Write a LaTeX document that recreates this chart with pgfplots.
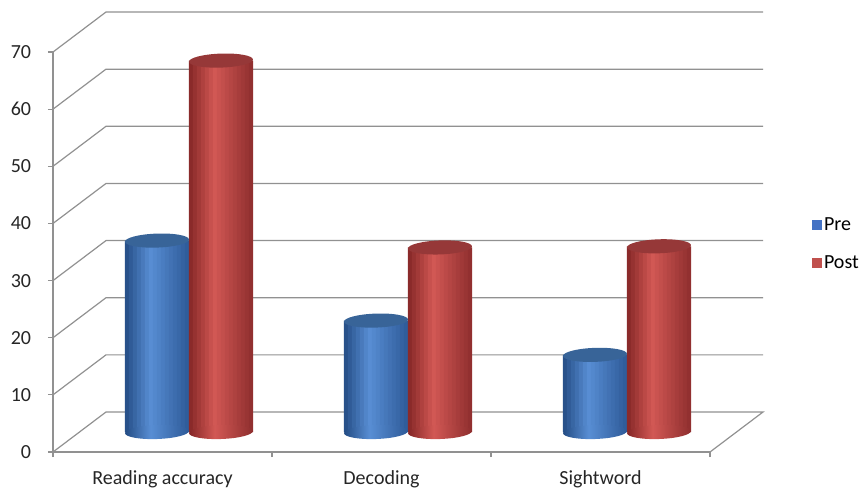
\documentclass[border=0pt]{standalone}
\usepackage{pgfplots}
\pgfplotsset{compat=1.18}
\usepackage{pgfplotstable}
\usepackage{fontspec}
\setmainfont{Carlito}
\definecolor{gridc}{RGB}{145,145,145}
\definecolor{bluedark}{RGB}{36,76,132}
\definecolor{bluelight}{RGB}{88,142,212}
\definecolor{blueright}{RGB}{46,90,152}
\definecolor{bluetop}{RGB}{56,100,152}
\definecolor{reddark}{RGB}{132,38,38}
\definecolor{redlight}{RGB}{210,88,84}
\definecolor{redright}{RGB}{142,46,46}
\definecolor{redtop}{RGB}{150,56,56}
\definecolor{legblue}{RGB}{68,114,196}
\definecolor{legred}{RGB}{192,80,77}
\pgfdeclarehorizontalshading{bshade}{100bp}{color(0bp)=(bluedark); color(25bp)=(bluedark); color(45bp)=(bluelight); color(75bp)=(blueright); color(100bp)=(blueright)}
\pgfdeclarehorizontalshading{rshade}{100bp}{color(0bp)=(reddark); color(25bp)=(reddark); color(45bp)=(redlight); color(75bp)=(redright); color(100bp)=(redright)}
\pgfdeclareplotmark{botblue}{\pgftransformrotate{2}\pgfpathellipse{\pgfpointorigin}{\pgfqpoint{32pt}{0pt}}{\pgfqpoint{0pt}{7pt}}\pgfshadepath{bshade}{0}\pgfusepath{discard}}
\pgfdeclareplotmark{botred}{\pgftransformrotate{2}\pgfpathellipse{\pgfpointorigin}{\pgfqpoint{32pt}{0pt}}{\pgfqpoint{0pt}{7pt}}\pgfshadepath{rshade}{0}\pgfusepath{discard}}
\pgfdeclareplotmark{cyltop}{\pgftransformrotate{2}\pgfpathellipse{\pgfpointorigin}{\pgfqpoint{32pt}{0pt}}{\pgfqpoint{0pt}{7pt}}\pgfusepathqfill}
\pgfplotsset{sqlegend/.style={legend image code/.code={\fill[##1] (0pt,-5pt) rectangle (10pt,5pt);}}}
% data: category index, Pre, Post
\pgfplotstableread{
x pre post
0 33.5 65
1 19.5 32.3
2 13.5 32.5
}\datatable
% mark positions (bar centres, shifted by half a bar width = 0.1461 axis units)
\pgfplotstableread{
x y
-0.1461 33.5
0.8539 19.5
1.8539 13.5
}\pretops
\pgfplotstableread{
x y
0.1461 65
1.1461 32.3
2.1461 32.5
}\posttops
\pgfplotstableread{
x y
-0.1461 0
0.8539 0
1.8539 0
}\prebots
\pgfplotstableread{
x y
0.1461 0
1.1461 0
2.1461 0
}\postbots
\begin{document}
\fontsize{20}{24}\selectfont
\begin{tikzpicture}
\useasboundingbox (0,0) rectangle (867pt,491pt);
% frame axis
\begin{axis}[
  at={(53pt,39pt)}, anchor=south west,
  x=219pt, y=5.714pt,
  xmin=-0.5, xmax=2.5, ymin=0, ymax=70,
  clip=false,
  axis x line*=bottom, axis y line*=left,
  axis line style={gridc, line width=1.2pt},
  every tick/.style={gridc, line width=1.2pt},
  tick align=outside, major tick length=5pt,
  ytick={0,10,...,70},
  xtick={-0.5,0.5,1.5,2.5}, xticklabels={},
  extra x ticks={0,1,2},
  extra x tick labels={Reading accuracy,Decoding,Sightword},
  extra x tick style={major tick length=0pt, tick style={draw=none}},
  /pgf/number format/assume math mode=true,
  tick label style={font=\fontsize{20}{24}\selectfont, text=black!85},
  yticklabel style={xshift=-10pt},
  xticklabel style={yshift=-12pt},
  legend style={draw=none, fill=none, at={(1.155,0.519)}, anchor=west,
    font=\fontsize{20}{24}\selectfont, row sep=18pt, inner sep=0pt,
    cells={anchor=west}},
  legend cell align=left,
]
\addlegendimage{sqlegend, fill=legblue, draw=none}
\addlegendentry{Pre}
\addlegendimage{sqlegend, fill=legred, draw=none}
\addlegendentry{Post}
\addplot[gridc, line width=1.2pt, forget plot] coordinates {(-0.5,0) (-0.258,7) (2.742,7) (2.5,0)};
\addplot[gridc, line width=1.2pt, forget plot] coordinates {(-0.5,10) (-0.258,17) (2.742,17)};
\addplot[gridc, line width=1.2pt, forget plot] coordinates {(-0.5,20) (-0.258,27) (2.742,27)};
\addplot[gridc, line width=1.2pt, forget plot] coordinates {(-0.5,30) (-0.258,37) (2.742,37)};
\addplot[gridc, line width=1.2pt, forget plot] coordinates {(-0.5,40) (-0.258,47) (2.742,47)};
\addplot[gridc, line width=1.2pt, forget plot] coordinates {(-0.5,50) (-0.258,57) (2.742,57)};
\addplot[gridc, line width=1.2pt, forget plot] coordinates {(-0.5,60) (-0.258,67) (2.742,67)};
\addplot[gridc, line width=1.2pt, forget plot] coordinates {(-0.5,70) (-0.258,77) (2.742,77)};
\end{axis}
% bars at mid depth
\begin{axis}[
  at={(79.5pt,59pt)}, anchor=south west,
  x=219pt, y=5.714pt,
  xmin=-0.5, xmax=2.5, ymin=0, ymax=70,
  clip=false, hide axis,
]
% ---- Pre ----
\addplot[only marks, mark=botblue] table[x=x,y=y] \prebots;
\pgfplotsinvokeforeach{0,...,5}{
  \pgfmathsetmacro{\sh}{-64+4*#1+2}
  \pgfmathsetmacro{\pc}{100*((#1+0.5)/16)/0.4}
  \edef\temp{\noexpand\addplot[ybar, bar width=4.4pt, bar shift=\sh pt, draw=none, fill=bluelight!\pc!bluedark] table[x=x,y=pre] \noexpand\datatable;}
  \temp
}
\pgfplotsinvokeforeach{6,...,15}{
  \pgfmathsetmacro{\sh}{-64+4*#1+2}
  \pgfmathsetmacro{\pc}{100*(1-(((#1+0.5)/16)-0.4)/0.6)}
  \edef\temp{\noexpand\addplot[ybar, bar width=4.4pt, bar shift=\sh pt, draw=none, fill=bluelight!\pc!blueright] table[x=x,y=pre] \noexpand\datatable;}
  \temp
}
\addplot[only marks, mark=cyltop, color=bluetop] table[x=x,y=y] \pretops;
% ---- Post ----
\addplot[only marks, mark=botred] table[x=x,y=y] \postbots;
\pgfplotsinvokeforeach{0,...,5}{
  \pgfmathsetmacro{\sh}{4*#1+2}
  \pgfmathsetmacro{\pc}{100*((#1+0.5)/16)/0.4}
  \edef\temp{\noexpand\addplot[ybar, bar width=4.4pt, bar shift=\sh pt, draw=none, fill=redlight!\pc!reddark] table[x=x,y=post] \noexpand\datatable;}
  \temp
}
\pgfplotsinvokeforeach{6,...,15}{
  \pgfmathsetmacro{\sh}{4*#1+2}
  \pgfmathsetmacro{\pc}{100*(1-(((#1+0.5)/16)-0.4)/0.6)}
  \edef\temp{\noexpand\addplot[ybar, bar width=4.4pt, bar shift=\sh pt, draw=none, fill=redlight!\pc!redright] table[x=x,y=post] \noexpand\datatable;}
  \temp
}
\addplot[only marks, mark=cyltop, color=redtop] table[x=x,y=y] \posttops;
\end{axis}
\end{tikzpicture}
\end{document}
